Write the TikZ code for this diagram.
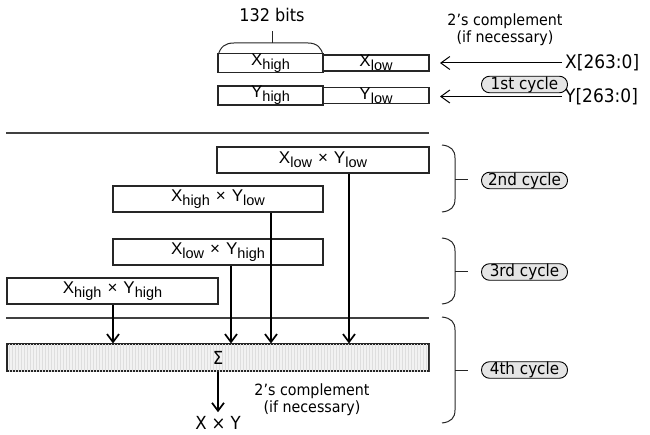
\documentclass[tikz,border=0pt]{standalone}
\usepackage{fontspec}
\setmainfont{DejaVu Sans}[FakeStretch=0.92]
\newfontfamily\boxfont{Liberation Sans}
\usetikzlibrary{arrows.meta,patterns,calc}
\newcommand{\mysub}[1]{\raisebox{-0.25em}{\fontsize{14.5}{15}\selectfont #1}}
\newcommand{\mytimes}{\hspace{6pt}×\hspace{6pt}}
\begin{document}
\begin{tikzpicture}[x=1pt,y=-1pt,
  reg/.style={draw=black!85, line width=1.1pt, inner sep=0pt, font=\boxfont\fontsize{17}{17}\selectfont},
  prod/.style={draw=black!85, line width=1.1pt, inner sep=0pt, minimum height=26pt, font=\boxfont\fontsize{17}{18}\selectfont},
  cyc/.style={draw=black, line width=0.9pt, fill=black!10, rounded corners=8pt, minimum width=86pt, minimum height=16.5pt, inner sep=0pt, font=\fontsize{16.5}{17}\selectfont},
  lbl/.style={inner sep=0pt, font=\fontsize{15.5}{16}\selectfont, align=center},
  inarr/.style={line width=1pt, -{Straight Barb[length=9pt,width=13pt]}},
  arr/.style={line width=1.7pt, -{Straight Barb[length=8pt,width=12pt]}},
  sep/.style={draw=black!75, line width=1.2pt},
  brk/.style={line width=1pt, black!85}
]
\useasboundingbox (0,0) rectangle (650,435);

% registers
\node[reg, minimum width=105pt, minimum height=15.5pt] (xh) at (270.5,63) {X\mysub{high}};
\node[reg, minimum width=106pt, minimum height=15.5pt] (xl) at (376,63) {X\mysub{low}};
\node[reg, minimum width=105pt, minimum height=15.5pt] (yh) at (270.5,95.5) {Y\mysub{high}};
\node[reg, minimum width=106pt, minimum height=15.5pt] (yl) at (376,95.5) {Y\mysub{low}};

% 132 bits brace
\draw[brk] (218,56) .. controls (220,47) and (225,43) .. (234,43) -- (308,43) .. controls (317,43) and (322,48) .. (323,56);
\node[lbl, font=\fontsize{17.5}{18}\selectfont] (bits) at (272,15) {132 bits};
\draw[brk] (bits.south |- 0,43) -- (bits.south |- 0,31);

% inputs
\node[lbl, font=\fontsize{18.5}{19}\selectfont, anchor=west] (xin) at (565,63) {X[263:0]};
\node[lbl, font=\fontsize{18.5}{19}\selectfont, anchor=west] (yin) at (565,96.5) {Y[263:0]};
\draw[inarr] (xin.west) ++(-3,0) coordinate (xs) (xs) -- (xs -| 440,0);
\draw[inarr] (yin.west) ++(-3,0) coordinate (ys) (ys) -- (ys -| 440,0);
\node[lbl] (tc1) at (505,30) {2's complement\\[1pt](if necessary)};
\node[cyc] (c1) at (524.5,84.5) {1st cycle};

\draw[sep] (6,133) -- (429,133);

% partial products
\node[prod, minimum width=212pt] (p1) at (323,160) {X\mysub{low}\mytimes Y\mysub{low}};
\node[prod, minimum width=210pt] (p2) at (218,199) {X\mysub{high}\mytimes Y\mysub{low}};
\node[prod, minimum width=210pt] (p3) at (218,252) {X\mysub{low}\mytimes Y\mysub{high}};
\node[prod, minimum width=211pt] (p4) at (112.5,291) {X\mysub{high}\mytimes Y\mysub{high}};

\draw[sep] (6,318) -- (429,318);

% sum
\node[draw=black!85, line width=1.1pt, fill=black!5, postaction={pattern=vertical lines, pattern color=black!13}, minimum width=422pt, minimum height=27pt, inner sep=0pt] (sum) at (218,357.5) {};
\node[inner sep=0pt, font=\fontsize{18}{19}\selectfont] (sig) at (218,358) {Σ};

\draw[arr] (349,0 |- p1.south) -- (349,0 |- sum.north);
\draw[arr] (271,0 |- p2.south) -- (271,0 |- sum.north);
\draw[arr] (231,0 |- p3.south) -- (231,0 |- sum.north);
\draw[arr] (113,0 |- p4.south) -- (113,0 |- sum.north);

\node[inner sep=0pt, font=\fontsize{18}{19}\selectfont] (xy) at (218,423) {X\hspace{5pt}×\hspace{5pt}Y};
\draw[arr] (sum.south) -- ($(xy.north)+(0,-4)$);
\node[lbl] (tc2) at (312,400) {2's complement\\[1pt](if necessary)};

% cycle brackets
\draw[brk] (442,145) .. controls (451,146) and (455,150) .. (455,158) -- (455,199) .. controls (455,207) and (451,211) .. (442,212);
\draw[brk] (455,180) -- (468,180);
\node[cyc] (c2) at (524.5,180.5) {2nd cycle};

\draw[brk] (442,238) .. controls (451,239) and (455,243) .. (455,251) -- (455,291) .. controls (455,299) and (451,303) .. (442,304);
\draw[brk] (455,272) -- (468,272);
\node[cyc] (c3) at (524.5,272) {3rd cycle};

\draw[brk] (442,317) .. controls (451,318) and (455,322) .. (455,330) -- (455,410) .. controls (455,418) and (451,422) .. (442,423);
\draw[brk] (455,370) -- (468,370);
\node[cyc] (c4) at (524.5,370) {4th cycle};
\end{tikzpicture}
\end{document}
